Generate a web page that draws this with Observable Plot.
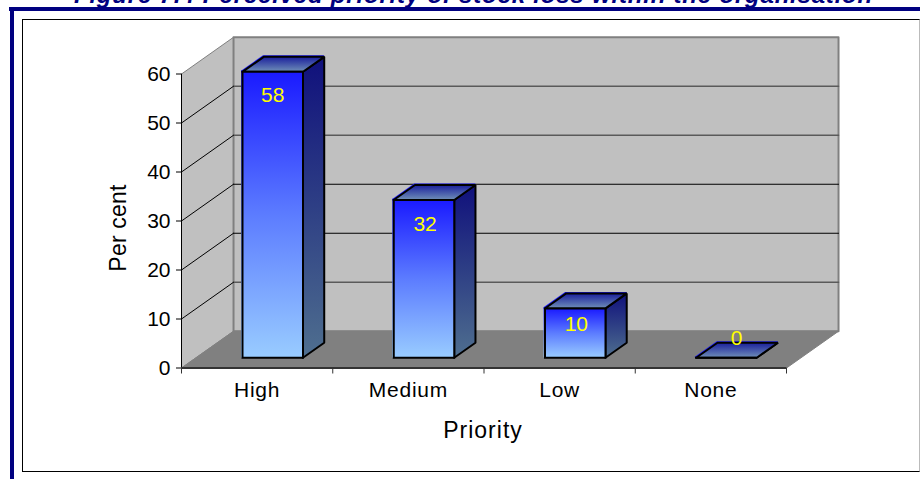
<!DOCTYPE html>
<html>
<head>
<meta charset="utf-8">
<script src="https://cdn.jsdelivr.net/npm/d3@7"></script>
<script src="https://cdn.jsdelivr.net/npm/@observablehq/plot@0.6"></script>
<style>
  html,body{margin:0;padding:0;background:#fff;width:920px;height:479px;overflow:hidden;}
  #title{position:absolute;left:0;width:947px;top:-19px;text-align:center;font:italic bold 24px "Liberation Sans",Arial,sans-serif;letter-spacing:.8px;color:#000080;white-space:nowrap;}
  #barT{position:absolute;left:9px;right:0;top:7px;height:4px;background:#000080;}
  #barL{position:absolute;left:10px;width:4px;top:7px;bottom:0;background:#000080;}
  #frame{position:absolute;left:22px;top:19px;width:896px;height:451px;border:1px solid #000;border-right-color:#bbb;}
  #chart{position:absolute;left:0;top:0;}
  #chart text{font-family:"Liberation Sans",Arial,sans-serif;}
  [aria-label="x-axis tick label"]{letter-spacing:.8px;}
  [aria-label="x title"]{letter-spacing:1px;}
  [aria-label="y title"]{letter-spacing:.2px;}
</style>
</head>
<body>
<div id="title">Figure 7.4 Perceived priority of stock loss within the organisation</div>
<div id="barT"></div><div id="barL"></div><div id="frame"></div>
<div id="chart"></div>
<script>
const categories = ["High", "Medium", "Low", "None"];
const values = [58, 32, 10, 0];
const yTicks = [0, 10, 20, 30, 40, 50, 60];
const softGrid = [10, 40, 50];
const xLabel = "Priority";
const yLabel = "Per cent";

// Oblique 3-D projection, expressed in data units
const DX = 0.344, DY = 7.5;           // full chart depth
const dFront = 0.28, dBack = 0.688;   // depth of each bar's faces
const barW = 0.4, barShift = 0.007, barRise = 1.006;
const px = (x, d) => x + d * DX;
const py = (y, d) => y + d * DY;
const poly = (id, pts) => pts.map(([x, y, d]) => ({id, x: px(x, d), y: py(y, d)}));
const N = categories.length, T = 60;

const leftWall = poly("l", [[0,0,0],[0,0,1],[0,T,1],[0,T,0],[0,0,0]]);
const backWall = poly("b", [[0,0,1],[N,0,1],[N,T,1],[0,T,1],[0,0,1]]);
const floor    = poly("f", [[0,0,0],[N,0,0],[N,0,1],[0,0,1],[0,0,0]]);
const mid = yTicks.slice(1,-1);
const gridBack = t => poly("g"+t, [[0,t,1],[N,t,1]]);
const gridBackHard = mid.filter(t => !softGrid.includes(t)).flatMap(gridBack);
const gridBackSoft = softGrid.flatMap(gridBack);
const gridSide = mid.flatMap(t => poly("s"+t, [[0,t,0],[0,t,1]]));

const faces = {front: [], side: [], top: []};
values.forEach((value, i) => {
  const v = value * barRise;
  const a = i + 0.5 + barShift - barW/2, b = a + barW;
  faces.front.push(...poly("f"+i, [[a,0,dFront],[b,0,dFront],[b,v,dFront],[a,v,dFront],[a,0,dFront]]));
  faces.side.push(...poly("s"+i, [[b,0,dFront],[b,0,dBack],[b,v,dBack],[b,v,dFront],[b,0,dFront]]));
  faces.top.push(...poly("t"+i, [[a,v,dFront],[b,v,dFront],[b,v,dBack],[a,v,dBack],[a,v,dFront]]));
});
const labelDrop = [4.8, 5.05, 3.2, -3.88];   // how far each label sits under its bar top (data units)
const labelSide = [0, 0.007, 0.007, 0.066];  // sideways nudge of each label (data units)
const labels = values.map((v, i) => ({
  t: String(v),
  x: px(i + 0.5 + barShift + labelSide[i], dFront),
  y: py(v * barRise - labelDrop[i], dFront)
}));

const defs = () => {
  const ns = "http://www.w3.org/2000/svg";
  const d = document.createElementNS(ns, "defs");
  const grad = (id, stops) => {
    const g = document.createElementNS(ns, "linearGradient");
    g.setAttribute("id", id); g.setAttribute("x1", 0); g.setAttribute("y1", 0);
    g.setAttribute("x2", 0); g.setAttribute("y2", 1);
    stops.forEach(([o, c]) => {
      const s = document.createElementNS(ns, "stop");
      s.setAttribute("offset", o); s.setAttribute("stop-color", c); g.appendChild(s);
    });
    d.appendChild(g);
  };
  grad("gFront", [[0,"#1a1aff"],[0.5,"#5c7cff"],[1,"#99ccff"]]);
  grad("gSide",  [[0,"#10107c"],[0.5,"#2e3f85"],[1,"#4f6f8f"]]);
  grad("gTop",   [[0,"#1a1f9c"],[1,"#7090b8"]]);
  return d;
};

const face = (rows, fill) => Plot.line(rows, {x:"x", y:"y", z:"id", fill, stroke:"#000", strokeWidth:2, strokeLinejoin:"miter", strokeLinecap:"square"});
const fringe = (rows, stroke) => Plot.line(rows, {x:"x", y:"y", z:"id", stroke, strokeWidth:1.5, dx:-0.7, dy:-0.7});
const size = 21;

const plot = Plot.plot({
  width: 920, height: 479,
  marginLeft: 181, marginRight: 134, marginTop: 73.5, marginBottom: 111.5,
  style: {background: "transparent", overflow: "visible"},
  x: {type: "linear", domain: [0, N]},
  y: {type: "linear", domain: [0, T]},
  marks: [
    defs,
    Plot.line(leftWall, {x:"x", y:"y", z:"id", fill:"#c0c0c0", stroke:"#808080", strokeWidth:1}),
    Plot.line(backWall, {x:"x", y:"y", z:"id", fill:"#c0c0c0", stroke:"#808080", strokeWidth:2}),
    Plot.line(gridBackHard, {x:"x", y:"y", z:"id", stroke:"#000", strokeWidth:1}),
    Plot.line(gridBackSoft, {x:"x", y:"y", z:"id", stroke:"#5a5a5a", strokeWidth:1.6}),
    Plot.line(gridSide, {x:"x", y:"y", z:"id", stroke:"#000", strokeWidth:1}),
    Plot.line(floor, {x:"x", y:"y", z:"id", fill:"#808080", stroke:"#808080", strokeWidth:1}),
    fringe(faces.top, "#1a1aff"),
    fringe(faces.front, "url(#gFront)"),
    face(faces.side, "url(#gSide)"),
    face(faces.top, "url(#gTop)"),
    face(faces.front, "url(#gFront)"),
    Plot.text(labels, {x:"x", y:"y", text:"t", fill:"#ffff00", fontSize:21, lineAnchor:"middle"}),
    Plot.ruleX([0], {y1:0, y2:T, stroke:"#000", strokeWidth:1}),
    Plot.ruleY([0], {x1:0, x2:N, stroke:"#333", strokeWidth:2}),
    Plot.axisY({ticks: yTicks, tickSize: 5, tickPadding: 6, fontSize: size, stroke:"#000", label: null, color:"#000"}),
    Plot.axisX({ticks: d3.range(N + 1), tickSize: 6, tickFormat: () => "", label: null, stroke:"#333"}),
    Plot.axisX({ticks: categories.map((c, i) => i + 0.5), tickSize: 0, tickPadding: 14,
      tickFormat: d => categories[Math.floor(d)], fontSize: size, label: null}),
    Plot.text([yLabel], {x: 0, y: T/2, text: d => d, dx: -63, dy: 7, rotate: -90, fontSize: 23, fill:"#000", ariaLabel: () => "y title"}),
    Plot.text([xLabel], {x: N/2, y: 0, text: d => d, dx: -1, dy: 63, fontSize: 23, fill:"#000", ariaLabel: () => "x title"})
  ]
});
document.getElementById("chart").appendChild(plot);
</script>
</body>
</html>
